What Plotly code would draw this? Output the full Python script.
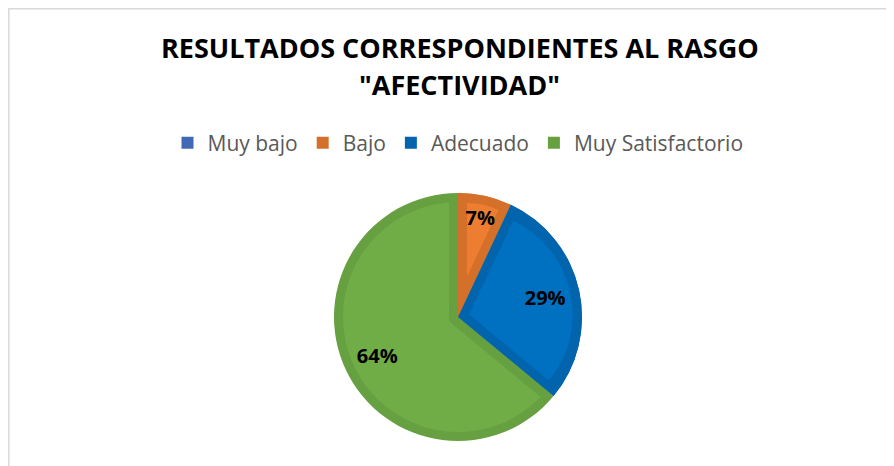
import math
import plotly.graph_objects as go

# ---------------- data ----------------
categories = ["Muy bajo", "Bajo", "Adecuado", "Muy Satisfactorio"]
values = [0, 7, 29, 64]
fill_colors = ["#4472C4", "#ED7D31", "#0070C0", "#70AD47"]
edge_colors = ["#4068B4", "#D5702B", "#0364AE", "#67A040"]
title_lines = ["RESULTADOS CORRESPONDIENTES AL RASGO", "\"AFECTIVIDAD\""]

# ---------------- geometry (figure pixels; page has 8px body margin) ----------------
W, H = 886, 458
CX, CY, R = 450, 309, 124     # pie centre / radius
BAND = 9                      # darker inner border width
T = "rgba(0,0,0,0)"

total = sum(values)
fracs = [v / total for v in values]
labels_txt = [f"{round(f * 100)}%" if f > 0 else "" for f in fracs]


def dom(cx, cy, half):
    return dict(x=[(cx - half) / W, (cx + half) / W],
                y=[(H - cy - half) / H, (H - cy + half) / H])


common = dict(labels=categories, values=values, sort=False, direction="clockwise",
              rotation=0, textinfo="none", showlegend=False, hoverinfo="skip")

fig = go.Figure()

# 1) base pie in the darker edge colours (also gives the legend)
fig.add_trace(go.Pie(**{**common, "showlegend": True, "hoverinfo": "label+percent"},
                     marker=dict(colors=edge_colors, line=dict(width=0)),
                     domain=dom(CX, CY, R)))

# 2) light fill for the big slice (index 3): light disk, then darker complement wedge grown by BAND
big = 3
fig.add_trace(go.Pie(labels=[categories[big]], values=[values[big]], sort=False,
                     textinfo="none", showlegend=False, hoverinfo="skip",
                     marker=dict(colors=[fill_colors[big]], line=dict(width=0)),
                     domain=dom(CX, CY, R - BAND)))
comp_frac = 1 - fracs[big]
half_c = math.pi * comp_frac          # half-angle of complementary wedge
bis_c = half_c                        # bisector angle from 12 o'clock, clockwise
d_c = BAND / math.sin(half_c)
cx3 = CX - d_c * math.sin(bis_c)
cy3 = CY + d_c * math.cos(bis_c)
fig.add_trace(go.Pie(**common,
                     marker=dict(colors=[edge_colors[big] if i != big else T for i in range(len(values))],
                                 line=dict(width=0)),
                     domain=dom(cx3, cy3, R - BAND + d_c)))

# 3) redraw the small slices in their edge colours
fig.add_trace(go.Pie(**common,
                     marker=dict(colors=[edge_colors[i] if (i != big and values[i] > 0) else T
                                         for i in range(len(values))], line=dict(width=0)),
                     domain=dom(CX, CY, R)))

# 4) light insets of the small slices (shifted outwards along bisector)
for i, f in enumerate(fracs):
    if i == big or f <= 0:
        continue
    half = math.pi * f
    d = BAND / math.sin(half)
    r_in = R - BAND - d
    p = d / r_in
    fig.add_trace(go.Pie(**common,
                         marker=dict(colors=[fill_colors[j] if j == i else T for j in range(len(values))],
                                     line=dict(width=0)),
                         pull=[p if j == i else 0 for j in range(len(values))],
                         domain=dom(CX, CY, R - BAND)))

# 5) percentage labels
fig.add_trace(go.Pie(**{**common, "textinfo": "text"},
                     text=labels_txt, textposition="inside", insidetextorientation="horizontal",
                     hole=0.44,
                     textfont=dict(family="Open Sans", size=20, color="#000000", weight="bold"),
                     marker=dict(colors=[T] * len(values), line=dict(width=0)),
                     domain=dom(CX, CY, R)))

# title
for line, ty in zip(title_lines, [39.5, 76.5]):
    fig.add_annotation(text=line, x=452 / W, y=1 - ty / H, xref="paper", yref="paper",
                       xanchor="center", yanchor="middle", showarrow=False,
                       font=dict(family="Open Sans", size=27, color="#000000", weight="bold"))

# chart frame
fig.add_shape(type="path", xref="paper", yref="paper",
              path=f"M {0.8/W} -0.05 L {0.8/W} {1-0.8/H} L 1.05 {1-0.8/H}",
              line=dict(color="#D9D9D9", width=1.5))

fig.update_layout(
    width=W, height=H,
    margin=dict(l=0, r=0, t=0, b=0),
    paper_bgcolor="white",
    plot_bgcolor="white",
    legend=dict(orientation="h", x=450 / W, xanchor="center", y=1 - 135 / H, yanchor="middle",
                font=dict(family="Open Sans", size=21, color="#595959"),
                bgcolor="rgba(0,0,0,0)", traceorder="normal"),
)

fig.write_html("out.html")
